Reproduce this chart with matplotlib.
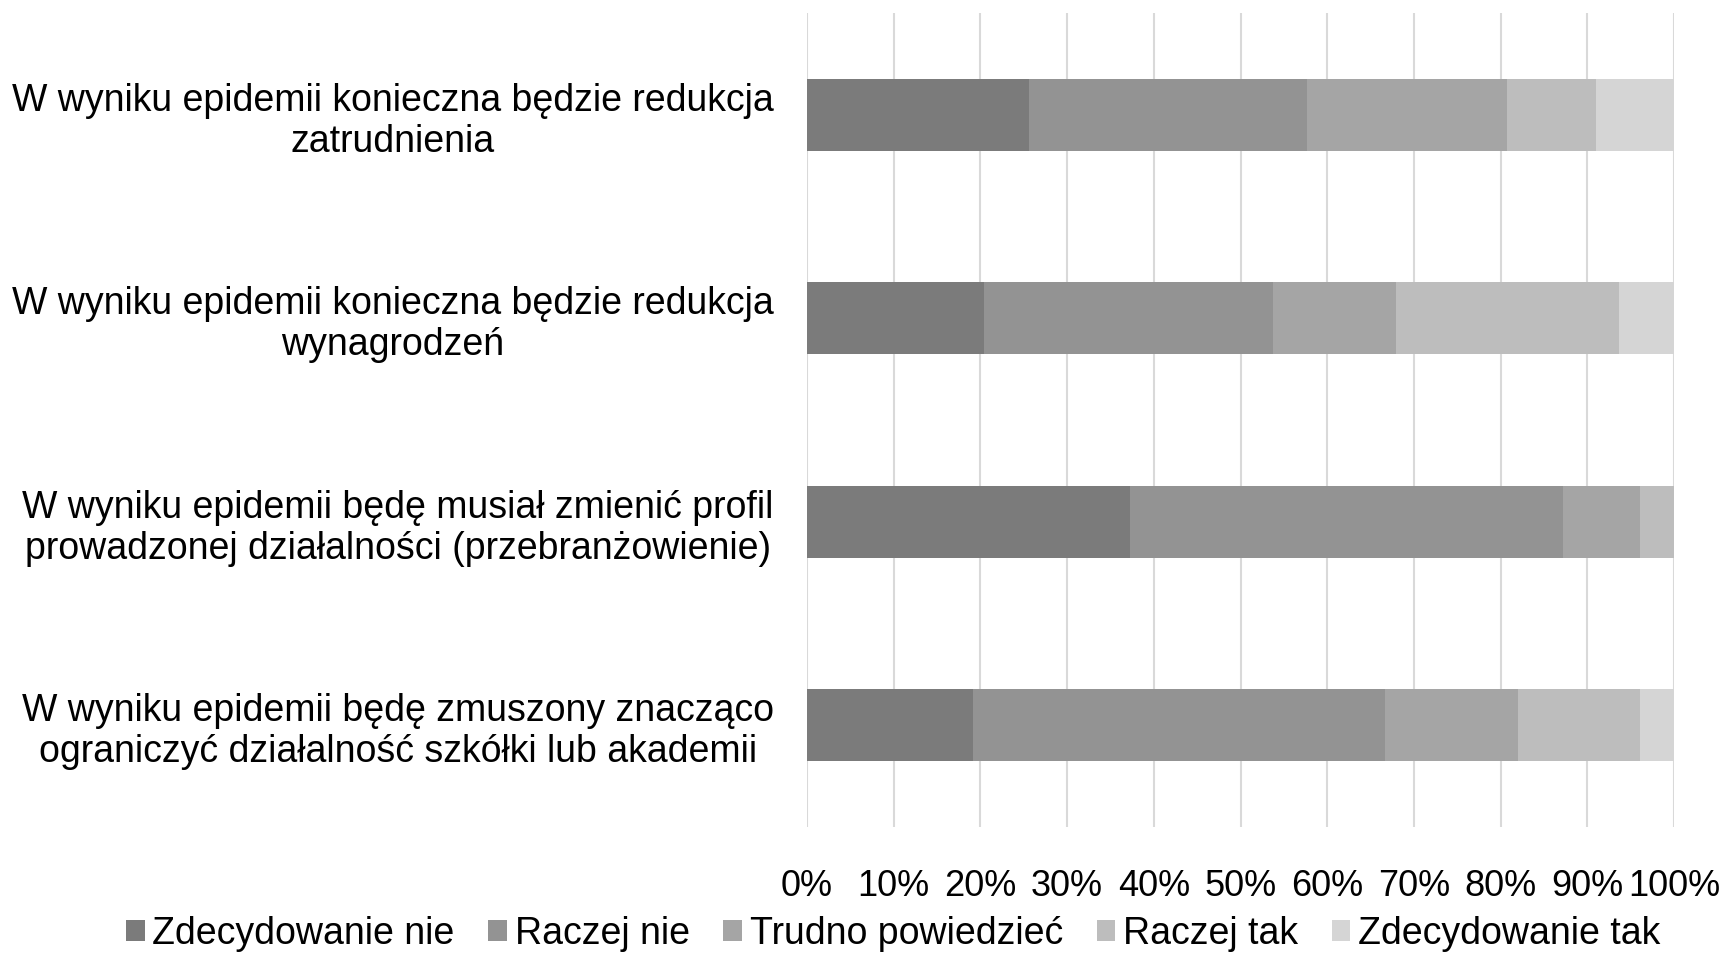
import matplotlib.pyplot as plt
import numpy as np

plt.rcParams['font.family'] = ['Liberation Sans', 'DejaVu Sans']

categories = [
    "W wyniku epidemii konieczna będzie redukcja\nzatrudnienia",
    "W wyniku epidemii konieczna będzie redukcja\nwynagrodzeń",
    "W wyniku epidemii będę musiał zmienić profil\nprowadzonej działalności (przebranżowienie)",
    "W wyniku epidemii będę zmuszony znacząco\nograniczyć działalność szkółki lub akademii",
]
series_names = ["Zdecydowanie nie", "Raczej nie", "Trudno powiedzieć", "Raczej tak", "Zdecydowanie tak"]
zdecydowanie_nie = [25.6, 20.4, 37.2, 19.1]
raczej_nie = [32.1, 33.3, 50.0, 47.6]
trudno = [23.0, 14.2, 8.9, 15.3]
raczej_tak = [10.3, 25.7, 3.9, 14.1]
zdecydowanie_tak = [9.0, 6.4, 0.0, 3.9]
colors = ["#7b7b7b", "#939393", "#a5a5a5", "#bdbdbd", "#d5d5d5"]

data = [zdecydowanie_nie, raczej_nie, trudno, raczej_tak, zdecydowanie_tak]

fig = plt.figure(figsize=(17.26, 9.56), dpi=100)
ax = fig.add_axes([807 / 1726, 1 - 827 / 956, (1674 - 807) / 1726, (827 - 13) / 956])

y = np.arange(len(categories))
left = np.zeros(len(categories))
for vals, name, c in zip(data, series_names, colors):
    vals = np.array(vals)
    ax.barh(y, vals, left=left, height=0.355, color=c, label=name, zorder=2)
    left += vals

ax.set_ylim(len(categories) - 0.5, -0.5)
ax.set_xlim(0, 100)
ax.set_yticks(y)
ax.set_yticklabels(categories, fontsize=27, linespacing=1.17, multialignment='center')
ax.set_xticks(np.arange(0, 101, 10))
ax.set_xticklabels([f"{v}%" for v in range(0, 101, 10)], fontsize=26)
ax.tick_params(axis='y', length=0, pad=24)
ax.tick_params(axis='x', length=0, pad=30)
ax.grid(axis='x', color='#d9d9d9', linewidth=1.5, zorder=0)
for s in ax.spines.values():
    s.set_visible(False)

fig.legend(loc='center', bbox_to_anchor=(893 / 1726, 1 - 934 / 956), ncol=5, frameon=False,
           fontsize=27, handlelength=0.5, handleheight=0.5, handletextpad=0.2,
           columnspacing=0.9, borderaxespad=0)

fig.savefig("out.png", dpi=100)
